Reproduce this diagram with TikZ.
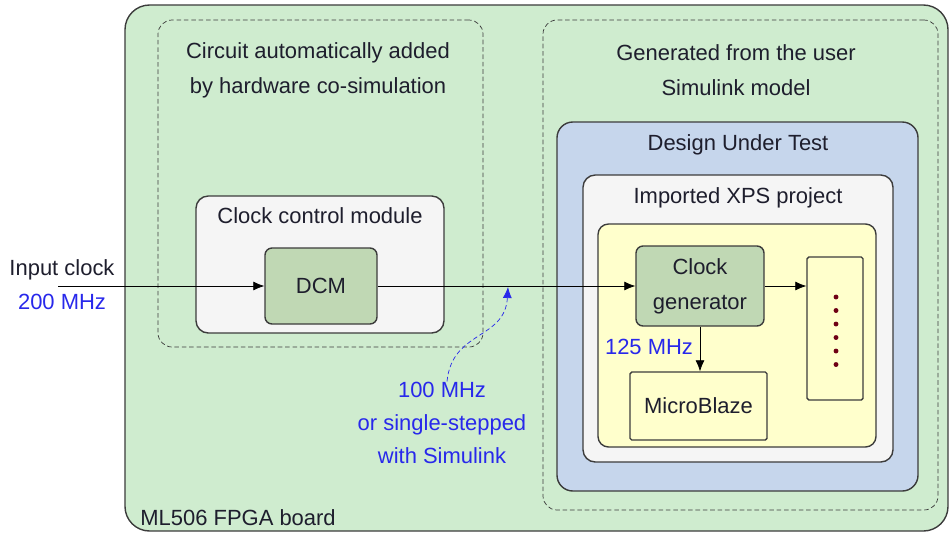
\documentclass[tikz,border=0pt]{standalone}
\usepackage{fontspec}
\setmainfont{Liberation Sans}
\usepackage{tikz}
\usetikzlibrary{arrows.meta,positioning}
\definecolor{boardgreen}{RGB}{207,236,207}
\definecolor{dutblue}{RGB}{198,214,236}
\definecolor{softgray}{RGB}{245,245,245}
\definecolor{softyellow}{RGB}{255,255,204}
\definecolor{blockgreen}{RGB}{192,216,180}
\definecolor{linegray}{RGB}{60,60,60}
\definecolor{labelblue}{RGB}{40,40,235}
\definecolor{textdark}{RGB}{30,30,45}
\definecolor{dotred}{RGB}{110,0,20}
\tikzset{
  box/.style={
    rounded corners=4pt,
    draw=linegray,
    thick,
    align=center,
    inner sep=0pt,
    text=textdark,
    font=\fontsize{12.5}{20}\selectfont
  },
  groupbox/.style={box, draw=linegray, thin, dash pattern=on 2.6pt off 1.6pt, rounded corners=8pt},
  boardbox/.style={box, fill=boardgreen, rounded corners=14pt},
  dutbox/.style={box, fill=dutblue, rounded corners=9pt},
  graybox/.style={box, fill=softgray, rounded corners=7pt},
  yellowbox/.style={box, fill=softyellow, rounded corners=6pt},
  greenbox/.style={box, fill=blockgreen},
  plainbox/.style={box, fill=softyellow, rounded corners=1pt},
  label/.style={align=center, text=textdark, inner sep=0pt, font=\fontsize{12.5}{20}\selectfont},
  freq/.style={label, text=labelblue, font=\fontsize{12.5}{19}\selectfont},
  arrow/.style={-{Latex[length=2.2mm,width=1.8mm]}, thin, draw=black}
}

\begin{document}
\begin{tikzpicture}[x=0.2mm, y=-0.2mm]
    \useasboundingbox (0,0) rectangle (951,533);
    % containers
    \node[boardbox, minimum width=164.6mm, minimum height=105.2mm] (board) at (536.5,268) {};
    \node[groupbox, minimum width=65mm, minimum height=65.4mm] (auto) at (320.5,183.5) {};
    \node[groupbox, minimum width=79mm, minimum height=98mm] (gen) at (740.5,265) {};
    \node[dutbox, minimum width=72.2mm, minimum height=73.8mm] (dut) at (737.5,306.5) {};
    \node[graybox, minimum width=62mm, minimum height=57.4mm] (xps) at (738,318.5) {};
    \node[yellowbox, minimum width=55.6mm, minimum height=44.6mm] (user) at (737,335.5) {};
    \node[graybox, minimum width=49.6mm, minimum height=27.4mm] (ccm) at (320,264.5) {};
    % blocks
    \node[greenbox, minimum width=22.4mm, minimum height=15.2mm] (dcm) at (321,286) {DCM};
    \node[greenbox, minimum width=25.6mm, minimum height=16mm] (clkgen) at (700,286) {Clock\\generator};
    \node[plainbox, minimum width=27.4mm, minimum height=13.6mm] (mblaze) at (698.5,406) {MicroBlaze};
    \node[plainbox, minimum width=11.2mm, minimum height=28.6mm] (periph) at (835,328.5) {};
    \foreach \i in {0,...,5}
      \fill[dotred] (836,297+13.5*\i) circle (1.4pt);
    % titles
    \node[label] (autotitle) at (318,70) {Circuit automatically added\\by hardware co-simulation};
    \node[label] (gentitle) at (736,70) {Generated from the user\\Simulink model};
    \node[label] (duttitle) at (738,145) {Design Under Test};
    \node[label] (xpstitle) at (738,198) {Imported XPS project};
    \node[label] (ccmtitle) at (320,216) {Clock control module};
    \node[label, anchor=west] (boardtitle) at (140,518) {ML506 FPGA board};
    % clock labels
    \node[label] (inclk) at (62,270) {Input clock};
    \node[freq] (infreq) at (62,302) {200 MHz};
    \node[freq] (stepfreq) at (442,423) {100 MHz\\or single-stepped\\with Simulink};
    \node[freq] (mbfreq) at (649,347) {125 MHz};
    \coordinate (clkin) at (58,286);
    \coordinate (tap) at (508,287);
    % connectors
    \draw[arrow] (clkin) -- (dcm.west);
    \draw[arrow] (dcm.east) -- (clkgen.west);
    \draw[arrow] (clkgen.east) -- (clkgen.east -| periph.west);
    \draw[arrow] (clkgen.south) -- (clkgen.south |- mblaze.north);
    \draw[arrow, draw=labelblue, dash pattern=on 2.6pt off 1.6pt] ([xshift=1mm]stepfreq.north) .. controls (452,330) and (505,340) .. (tap);
\end{tikzpicture}
\end{document}
